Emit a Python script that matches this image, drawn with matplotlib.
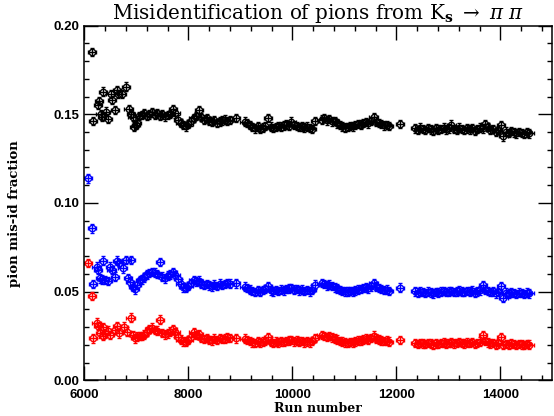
import matplotlib
matplotlib.use("Agg")
import matplotlib.pyplot as plt
from matplotlib.ticker import MultipleLocator, FormatStrFormatter
import numpy as np

# ---------------- data ----------------
early_runs_black = [6138, 6170, 6254, 6279, 6311, 6343, 6362, 6407, 6458, 6503, 6529, 6587,
                    6619, 6651, 6715, 6798, 6849, 6900, 6926, 6952, 6990, 7016, 7050]
early_black = [0.1850, 0.1462, 0.1552, 0.1575, 0.1500, 0.1486, 0.1627, 0.1515, 0.1475, 0.1614,
               0.1580, 0.1524, 0.1637, 0.1614, 0.1614, 0.1656, 0.1528, 0.1502, 0.1486, 0.1430,
               0.1440, 0.1453, 0.1490]

early_runs_blue = [6073, 6138, 6170, 6234, 6266, 6298, 6330, 6362, 6394, 6458, 6490, 6522,
                   6587, 6619, 6670, 6734, 6798, 6888, 6843, 6875, 6939, 6971, 7003, 7067]
early_blue = [0.1139, 0.0857, 0.0543, 0.0641, 0.0622, 0.0575, 0.0570, 0.0675, 0.0566, 0.0560,
              0.0641, 0.0622, 0.0585, 0.0675, 0.0663, 0.0632, 0.0679, 0.0679, 0.0577, 0.0556,
              0.0528, 0.0513, 0.0538, 0.0566]

early_runs_red = [6073, 6138, 6170, 6234, 6266, 6298, 6350, 6362, 6394, 6458, 6490, 6587,
                  6619, 6670, 6766, 6811, 6888, 6939, 6971, 7003, 7067]
early_red = [0.0663, 0.0476, 0.0237, 0.0325, 0.0307, 0.0265, 0.0299, 0.0250, 0.0265, 0.0280,
             0.0256, 0.0284, 0.0307, 0.0265, 0.0303, 0.0275, 0.0354, 0.0256, 0.0237, 0.0246,
             0.0250]

runs = [7100, 7150, 7200, 7250, 7300, 7350, 7400, 7450, 7500, 7550, 7600, 7650, 7700, 7750,
        7800, 7850, 7900, 7950, 8000, 8050, 8100, 8150, 8200, 8250, 8300, 8350, 8400, 8450,
        8500, 8550, 8600, 8650, 8700, 8750, 8800,
        8910,
        9080, 9130, 9180, 9230, 9280, 9330, 9380, 9430, 9480, 9530, 9580, 9630, 9680, 9730,
        9780, 9830, 9880, 9930, 9980, 10030, 10080, 10130, 10180, 10230, 10280, 10330, 10380,
        10430,
        10560, 10610, 10660, 10710, 10760, 10810, 10860, 10910, 10960, 11010, 11060, 11110,
        11160, 11210, 11260, 11310, 11360, 11410, 11460, 11510, 11560, 11610, 11660, 11710,
        11760, 11810, 11860,
        12070,
        12360, 12410, 12460, 12510, 12560, 12610, 12660, 12710, 12760, 12810, 12860, 12910,
        12960, 13010, 13060, 13110, 13160, 13210, 13260, 13310, 13360, 13410, 13460, 13510,
        13560, 13610, 13660, 13710, 13760, 13810, 13860, 13910, 13960, 14010, 14060, 14110,
        14160, 14210, 14260, 14310, 14360, 14410, 14460, 14510, 14560]

black = [0.1495, 0.1505, 0.1490, 0.1500, 0.1510, 0.1498, 0.1505, 0.1492, 0.1500, 0.1488,
         0.1497, 0.1502, 0.1530, 0.1505, 0.1470, 0.1452, 0.1440, 0.1432, 0.1445, 0.1460,
         0.1478, 0.1490, 0.1525, 0.1485, 0.1470, 0.1478, 0.1462, 0.1455, 0.1468, 0.1450,
         0.1460, 0.1465, 0.1470, 0.1462, 0.1468,
         0.1478,
         0.1458, 0.1450, 0.1440, 0.1428, 0.1420, 0.1432, 0.1418, 0.1425, 0.1435, 0.1478,
         0.1430, 0.1422, 0.1428, 0.1435, 0.1430, 0.1438, 0.1442, 0.1436, 0.1458, 0.1440,
         0.1435, 0.1428, 0.1432, 0.1426, 0.1430, 0.1422, 0.1418, 0.1462,
         0.1470, 0.1478, 0.1465, 0.1472, 0.1460, 0.1462, 0.1448, 0.1440, 0.1432, 0.1425,
         0.1428, 0.1435, 0.1432, 0.1440, 0.1445, 0.1442, 0.1450, 0.1455, 0.1448, 0.1462,
         0.1482, 0.1458, 0.1450, 0.1445, 0.1438, 0.1440, 0.1435,
         0.1445,
         0.1420, 0.1412, 0.1425, 0.1418, 0.1410, 0.1422, 0.1415, 0.1408, 0.1420, 0.1413,
         0.1418, 0.1425, 0.1415, 0.1420, 0.1442, 0.1418, 0.1412, 0.1425, 0.1418, 0.1410,
         0.1420, 0.1415, 0.1422, 0.1405, 0.1418, 0.1425, 0.1420, 0.1445, 0.1428, 0.1410,
         0.1418, 0.1400, 0.1412, 0.1440, 0.1375, 0.1402, 0.1395, 0.1405, 0.1398, 0.1392,
         0.1400, 0.1395, 0.1390, 0.1398, 0.1392]

blue = [0.0570, 0.0580, 0.0598, 0.0605, 0.0612, 0.0608, 0.0600, 0.0668, 0.0585, 0.0575,
        0.0590, 0.0598, 0.0610, 0.0595, 0.0570, 0.0545, 0.0525, 0.0520, 0.0532, 0.0548,
        0.0565, 0.0558, 0.0562, 0.0545, 0.0538, 0.0542, 0.0535, 0.0530, 0.0540, 0.0532,
        0.0545, 0.0538, 0.0542, 0.0550, 0.0545,
        0.0547,
        0.0528, 0.0520, 0.0512, 0.0505, 0.0498, 0.0508, 0.0500, 0.0510, 0.0515, 0.0530,
        0.0508, 0.0502, 0.0510, 0.0505, 0.0512, 0.0508, 0.0515, 0.0518, 0.0522, 0.0512,
        0.0515, 0.0508, 0.0512, 0.0505, 0.0510, 0.0502, 0.0512, 0.0540,
        0.0548, 0.0542, 0.0535, 0.0540, 0.0532, 0.0525, 0.0518, 0.0510, 0.0505, 0.0502,
        0.0500, 0.0505, 0.0502, 0.0508, 0.0512, 0.0515, 0.0520, 0.0525, 0.0518, 0.0530,
        0.0550, 0.0528, 0.0520, 0.0515, 0.0510, 0.0512, 0.0505,
        0.0523,
        0.0502, 0.0495, 0.0500, 0.0498, 0.0492, 0.0500, 0.0496, 0.0490, 0.0498, 0.0495,
        0.0500, 0.0504, 0.0497, 0.0500, 0.0505, 0.0498, 0.0502, 0.0506, 0.0500, 0.0498,
        0.0503, 0.0500, 0.0506, 0.0495, 0.0502, 0.0508, 0.0538, 0.0512, 0.0505, 0.0498,
        0.0502, 0.0490, 0.0498, 0.0532, 0.0465, 0.0495, 0.0490, 0.0496, 0.0492, 0.0488,
        0.0495, 0.0492, 0.0488, 0.0494, 0.0490]

red = [0.0250, 0.0258, 0.0275, 0.0290, 0.0298, 0.0285, 0.0280, 0.0342, 0.0268, 0.0260,
       0.0265, 0.0275, 0.0288, 0.0270, 0.0245, 0.0230, 0.0220, 0.0218, 0.0228, 0.0245,
       0.0272, 0.0255, 0.0260, 0.0240, 0.0232, 0.0238, 0.0228, 0.0225, 0.0235, 0.0228,
       0.0238, 0.0232, 0.0236, 0.0242, 0.0238,
       0.0237,
       0.0235, 0.0228, 0.0222, 0.0215, 0.0212, 0.0220, 0.0214, 0.0218, 0.0222, 0.0245,
       0.0218, 0.0212, 0.0218, 0.0215, 0.0220, 0.0216, 0.0222, 0.0225, 0.0228, 0.0220,
       0.0224, 0.0218, 0.0222, 0.0215, 0.0220, 0.0214, 0.0222, 0.0240,
       0.0256, 0.0250, 0.0245, 0.0250, 0.0242, 0.0236, 0.0230, 0.0222, 0.0218, 0.0214,
       0.0212, 0.0216, 0.0214, 0.0220, 0.0224, 0.0226, 0.0230, 0.0235, 0.0230, 0.0238,
       0.0252, 0.0236, 0.0230, 0.0226, 0.0222, 0.0224, 0.0218,
       0.0228,
       0.0212, 0.0206, 0.0210, 0.0208, 0.0204, 0.0210, 0.0207, 0.0202, 0.0208, 0.0206,
       0.0210, 0.0213, 0.0207, 0.0210, 0.0215, 0.0208, 0.0212, 0.0216, 0.0210, 0.0208,
       0.0213, 0.0210, 0.0216, 0.0206, 0.0212, 0.0218, 0.0256, 0.0222, 0.0215, 0.0208,
       0.0212, 0.0202, 0.0208, 0.0244, 0.0200, 0.0206, 0.0202, 0.0208, 0.0204, 0.0200,
       0.0206, 0.0203, 0.0200, 0.0205, 0.0202]

run_err = 80
frac_err = 0.0024

# ---------------- figure ----------------
plt.rcParams["mathtext.fontset"] = "dejavuserif"
fig = plt.figure(figsize=(5.54, 4.16), dpi=100)
ax = fig.add_axes([0.1525, 0.0856, 0.8445, 0.853])

series = [
    (early_runs_black + runs, early_black + black, "#000000"),
    (early_runs_blue + runs, early_blue + blue, "#0000ff"),
    (early_runs_red + runs, early_red + red, "#ff0000"),
]
for xs, ys, col in series:
    ax.errorbar(xs, ys, xerr=run_err, yerr=frac_err, fmt="o", ms=4.6,
                mfc="none", mec=col, mew=1.0, ecolor=col, elinewidth=1.0,
                capsize=1.3, capthick=1.0)

ax.set_xlim(6000, 15000)
ax.set_ylim(0.0, 0.20)
ax.xaxis.set_major_locator(MultipleLocator(2000))
ax.xaxis.set_minor_locator(MultipleLocator(400))
ax.yaxis.set_major_locator(MultipleLocator(0.05))
ax.yaxis.set_minor_locator(MultipleLocator(0.01))
ax.yaxis.set_major_formatter(FormatStrFormatter("%.2f"))

ax.tick_params(which="both", direction="in", top=True, right=True, width=1.0,
               labelsize=9.5)
ax.tick_params(axis="x", pad=6)
ax.tick_params(axis="y", pad=4)
ax.tick_params(which="major", length=10)
ax.tick_params(which="minor", length=3.5)
for lab in ax.get_xticklabels() + ax.get_yticklabels():
    lab.set_fontweight("bold")
    lab.set_fontfamily("Liberation Sans")
for sp in ax.spines.values():
    sp.set_linewidth(1.1)

ax.set_title(r"Misidentification of pions from K$_\mathbf{s}$ $\rightarrow$ $\pi$ $\pi$",
             family="DejaVu Serif", fontsize=14.3, pad=5)
ax.set_xlabel("Run number", family="DejaVu Serif", fontsize=9, fontweight="bold", labelpad=1)
ax.set_ylabel("pion mis-id fraction", family="DejaVu Serif", fontsize=9.5,
              fontweight="bold")
ax.yaxis.set_label_coords(-0.135, 0.47)

fig.savefig("out.png", dpi=100)
